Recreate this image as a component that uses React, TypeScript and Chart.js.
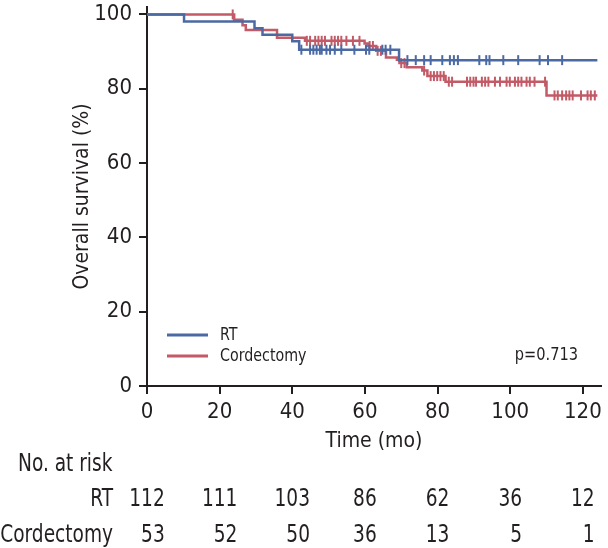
import React, { useEffect, useRef } from 'react';
import { Chart, registerables } from 'chart.js';

Chart.register(...registerables);

const FONT = "'Liberation Sans Narrow', 'DejaVu Sans Condensed', 'Arial Narrow', sans-serif";
const INK = '#231f20';
const BLUE = '#4b6aa3';
const RED = '#c25b67';

const seriesNames = ['RT', 'Cordectomy'];

// Kaplan-Meier steps (time in months, survival %)
const rtTimes = [0, 10.2, 29.6, 31.8, 40.0, 41.9, 69.4, 124];
const rtSurv = [100, 98.1, 96.3, 94.5, 92.8, 90.5, 87.7, 87.7];
const rtCensor = [42.5, 44.9, 45.8, 46.7, 47.6, 48.1, 49.4, 50.4, 51.7, 53.5, 57.1, 60.3, 61.2, 64.8, 65.7, 67.0,
  71.7, 74.0, 76.3, 78.1, 81.3, 83.4, 84.5, 85.6, 91.5, 93.4, 94.3, 98.1, 102.2, 108.1, 110.4, 114.3];

const cdTimes = [0, 24.0, 26.3, 27.2, 35.8, 43.5, 59.9, 60.8, 63.1, 65.8, 68.8, 69.5, 71.5, 75.8, 77.2, 82.2, 110.0, 124];
const cdSurv = [100, 98.6, 97.1, 95.8, 93.7, 92.9, 92.2, 91.5, 90.2, 88.4, 87.8, 86.9, 85.8, 84.9, 83.4, 81.9, 78.2, 78.2];
const cdCensor = [23.6, 44.0, 44.9, 46.3, 47.2, 48.1, 49.0, 50.8, 51.7, 52.6, 53.5, 54.9, 56.7, 58.5, 61.3, 62.2, 63.5, 64.4,
  70.0, 70.9, 76.3, 78.1, 79.0, 79.9, 80.8, 81.7, 83.1, 84.0, 88.1, 89.0, 89.9, 90.6, 92.2, 93.1, 94.0, 95.8, 97.2,
  99.0, 99.9, 101.3, 102.2, 103.1, 104.5, 105.4, 106.7, 109.6, 112.2, 113.1, 114.3, 115.4, 116.3, 117.2, 119.5,
  121.3, 122.2, 123.3];

const xTicks = [0, 20, 40, 60, 80, 100, 120];
const yTicks = [0, 20, 40, 60, 80, 100];
const riskTimes = [0, 20, 40, 60, 80, 100, 120];
const rtAtRisk = [112, 111, 103, 86, 62, 36, 12];
const cdAtRisk = [53, 52, 50, 36, 13, 5, 1];
const pValueText = 'p=0.713';
const xTitle = 'Time (mo)';
const yTitle = 'Overall survival (%)';
const riskTitle = 'No. at risk';

function levelAt(times: number[], surv: number[], t: number) {
  let s = surv[0];
  for (let i = 0; i < times.length; i++) if (times[i] <= t) s = surv[i];
  return s;
}

function condText(ctx: any, text: string, x: number, y: number, align: string, size: number, sx: number) {
  ctx.save();
  ctx.translate(x, y);
  ctx.scale(sx, 1);
  ctx.font = `${size}px ${FONT}`;
  ctx.textAlign = align;
  ctx.textBaseline = 'middle';
  ctx.fillStyle = INK;
  ctx.fillText(text, 0, 0);
  ctx.restore();
}

function condWidth(ctx: any, text: string, size: number, sx: number) {
  ctx.save();
  ctx.font = `${size}px ${FONT}`;
  const w = ctx.measureText(text).width * sx;
  ctx.restore();
  return w;
}

const overlay = {
  id: 'overlay',
  afterDraw(chart: any) {
    const { ctx } = chart;
    const xs = chart.scales.x;
    ctx.save();
    // legend
    const legend: [string, string, number][] = [[BLUE, seriesNames[0], 335], [RED, seriesNames[1], 356]];
    legend.forEach(([c, label, y]) => {
      ctx.strokeStyle = c;
      ctx.lineWidth = 3;
      ctx.beginPath();
      ctx.moveTo(167, y);
      ctx.lineTo(208, y);
      ctx.stroke();
      condText(ctx, label, 220, y, 'left', 18, 0.88);
    });
    condText(ctx, pValueText, 578, 355, 'right', 18, 0.9);

    // risk table
    const RS = 24;
    const SX = 0.86;
    condText(ctx, riskTitle, 18, 465, 'left', RS, SX);
    condText(ctx, seriesNames[0], 113, 500, 'right', RS, SX);
    condText(ctx, seriesNames[1], 113, 536, 'right', RS, SX);
    riskTimes.forEach((t, i) => {
      const px = xs.getPixelForValue(t);
      const s = String(rtAtRisk[i]);
      const w = condWidth(ctx, s, RS, SX);
      condText(ctx, s, px, 500, 'center', RS, SX);
      condText(ctx, String(cdAtRisk[i]), px + w / 2, 536, 'right', RS, SX);
    });
    ctx.restore();
  },
};

export default function App() {
  const ref = useRef<HTMLCanvasElement>(null);
  useEffect(() => {
    if (!ref.current) return;
    const line = (times: number[], surv: number[], color: string, label: string, order: number) => ({
      label,
      data: times.map((t, i) => ({ x: t, y: surv[i] })),
      borderColor: color,
      backgroundColor: color,
      borderWidth: 2.5,
      stepped: true,
      pointRadius: 0,
      fill: false,
      order,
    });
    const censor = (cs: number[], times: number[], surv: number[], color: string, label: string, order: number) => ({
      label,
      data: cs.map((t) => ({ x: t, y: levelAt(times, surv, t) })),
      showLine: false,
      pointStyle: 'line',
      pointRotation: 90,
      pointRadius: 5,
      pointBorderWidth: 2,
      borderColor: color,
      backgroundColor: color,
      pointBorderColor: color,
      order,
    });
    const chart = new Chart(ref.current, {
      type: 'line',
      data: {
        datasets: [
          line(rtTimes, rtSurv, BLUE, seriesNames[0], 0),
          censor(rtCensor, rtTimes, rtSurv, BLUE, seriesNames[0] + ' censored', 1),
          line(cdTimes, cdSurv, RED, seriesNames[1], 2),
          censor(cdCensor, cdTimes, cdSurv, RED, seriesNames[1] + ' censored', 3),
        ] as any,
      },
      options: {
        animation: false,
        responsive: false,
        layout: { padding: { left: 0, top: 0, right: 3, bottom: 90 } },
        plugins: { legend: { display: false }, tooltip: { enabled: false } },
        scales: {
          x: {
            type: 'linear',
            min: 0,
            max: 125,
            afterBuildTicks: (s: any) => { s.ticks = xTicks.map((v) => ({ value: v })); },
            afterFit: (s: any) => { s.height = 72; s.paddingLeft = 0; s.paddingRight = 0; },
            border: { display: true, color: INK, width: 2 },
            grid: { display: true, drawOnChartArea: false, drawTicks: true, tickLength: 8, color: INK, lineWidth: 2 },
            ticks: { color: INK, font: { family: FONT, size: 22 }, padding: 5, maxRotation: 0 },
            title: { display: true, text: xTitle, color: INK, font: { family: FONT, size: 21 }, padding: { top: 0, bottom: 4 } },
          },
          y: {
            type: 'linear',
            min: 0,
            max: 102,
            afterBuildTicks: (s: any) => { s.ticks = yTicks.map((v) => ({ value: v })); },
            afterFit: (s: any) => { s.width = 147; s.paddingTop = 0; s.paddingBottom = 0; },
            border: { display: true, color: INK, width: 2 },
            grid: { display: true, drawOnChartArea: false, drawTicks: true, tickLength: 8, color: INK, lineWidth: 2 },
            ticks: { color: INK, font: { family: FONT, size: 22 }, padding: 7 },
            title: { display: true, text: yTitle, color: INK, font: { family: FONT, size: 21 }, padding: { top: 70, bottom: 0 } },
          },
        },
      } as any,
      plugins: [overlay],
    });
    return () => chart.destroy();
  }, []);
  return (
    <div style={{ position: 'fixed', left: 0, top: 0, width: 608, height: 548, background: '#fff' }}>
      <canvas ref={ref} width={608} height={548} style={{ display: 'block' }} />
    </div>
  );
}
